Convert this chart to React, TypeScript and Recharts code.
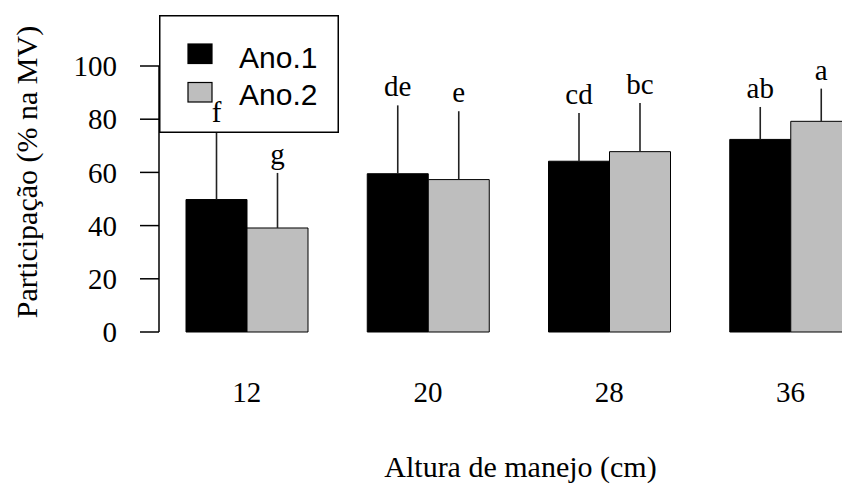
import React from 'react';
import { BarChart, Bar, XAxis, YAxis, ErrorBar, LabelList, Legend } from 'recharts';

// Altura de manejo (cm)
const alturas = ['12', '20', '28', '36'];
// Participação média (% na MV)
const ano1 = [49.8, 59.5, 64.2, 72.4];
const ano2 = [39.1, 57.3, 67.8, 79.2];
// Desvio (somente para cima)
const desvio1 = [25.7, 25.7, 18.1, 12.2];
const desvio2 = [20.7, 25.7, 18.3, 12.3];
// Letras de comparação de médias
const letras1 = ['f', 'de', 'cd', 'ab'];
const letras2 = ['g', 'e', 'bc', 'a'];
const yTicks = [0, 20, 40, 60, 80, 100];
const seriesNames = ['Ano.1', 'Ano.2'];
const seriesColors = ['#000000', '#BEBEBE'];

const data = alturas.map((altura, i) => ({
  altura,
  ano1: ano1[i],
  ano2: ano2[i],
  err1: [0, desvio1[i]],
  err2: [0, desvio2[i]],
  topo1: desvio1[i],
  topo2: desvio2[i],
  letra1: letras1[i],
  letra2: letras2[i],
}));

const SERIF = '"Liberation Serif", "Times New Roman", Times, serif';
const SANS = '"Liberation Sans", Arial, Helvetica, sans-serif';

const W = 882;
const H = 484;
const MARGIN_TOP = 66;
const XAXIS_H = 152;
const YAXIS_W = 159;
const X_PAD = { left: -3, right: 1 };

const LetterLabel = (props: any) => {
  const vb = props.viewBox ?? {};
  const x = props.x ?? vb.x;
  const y = props.y ?? vb.y;
  const w = props.width ?? vb.width;
  return (
    <text x={x + w / 2} y={y - 9} textAnchor="middle" fontFamily={SERIF} fontSize={29} fill="#000">
      {props.value}
    </text>
  );
};

const YTitle = () => (
  <text
    x={37}
    y={172}
    transform="rotate(-90 37 172)"
    textAnchor="middle"
    fontFamily={SERIF}
    fontSize={30}
    fill="#000"
  >
    Participação (% na MV)
  </text>
);

// Boxed legend, drawn above the plot so it hides what lies beneath it
const LegendContent = (props: any) => {
  const items = (props.payload ?? []).filter((p: any) => p.type !== 'none');
  return (
    <svg width={180} height={118} style={{ display: 'block' }}>
      <rect x={0.75} y={0.75} width={178.5} height={116.5} fill="#fff" stroke="#000" strokeWidth={1.5} />
      {items.map((item: any, i: number) => (
        <g key={item.value}>
          <rect x={29} y={29 + i * 38.5} width={24} height={19.5} fill={item.color} stroke="#000" strokeWidth={1.2} />
          <text x={80} y={52.5 + i * 37.5} fontFamily={SANS} fontSize={30} fill="#000">
            {item.value}
          </text>
        </g>
      ))}
    </svg>
  );
};

export default function App() {
  return (
    <div style={{ position: 'absolute', left: 0, top: 0, width: 842, height: 484, overflow: 'hidden', background: '#fff' }}>
      {/* Bars, error bars, axes and legend */}
      <div style={{ position: 'absolute', left: 0, top: 0 }}>
        <BarChart
          width={W}
          height={H}
          data={data}
          margin={{ top: MARGIN_TOP, right: 0, bottom: 0, left: 0 }}
          barSize={61}
          barGap={0}
        >
          <XAxis
            dataKey="altura"
            padding={X_PAD}
            axisLine={false}
            tickLine={false}
            tickSize={0}
            tickMargin={49}
            interval={0}
            height={XAXIS_H}
            tick={{ fontFamily: SERIF, fontSize: 29, fill: '#000' }}
            label={{
              value: 'Altura de manejo (cm)',
              position: 'insideBottom',
              offset: 7,
              style: { fontFamily: SERIF, fontSize: 30, fill: '#000' },
            }}
          />
          <YAxis
            domain={[0, 100]}
            ticks={yTicks}
            width={YAXIS_W}
            tickSize={19}
            tickMargin={23}
            axisLine={{ stroke: '#000', strokeWidth: 1.5 }}
            tickLine={{ stroke: '#000', strokeWidth: 1.5 }}
            tick={{ fontFamily: SERIF, fontSize: 29, fill: '#000' }}
            label={{ content: () => <YTitle /> }}
          />
          <Bar dataKey="ano1" name={seriesNames[0]} stackId="s1" fill={seriesColors[0]} stroke="#000" strokeWidth={1} isAnimationActive={false}>
            <ErrorBar dataKey="err1" width={0} stroke="#222" strokeWidth={1.6} direction="y" />
          </Bar>
          <Bar dataKey="ano2" name={seriesNames[1]} stackId="s2" fill={seriesColors[1]} stroke="#000" strokeWidth={1} isAnimationActive={false}>
            <ErrorBar dataKey="err2" width={0} stroke="#222" strokeWidth={1.6} direction="y" />
          </Bar>
          <Legend
            layout="horizontal"
            verticalAlign="middle"
            align="center"
            content={LegendContent}
            wrapperStyle={{ left: 159, top: 15, width: 180, height: 118, margin: 0, padding: 0 }}
          />
        </BarChart>
      </div>
      {/* Letters above the error bars, same scales, layered over the legend */}
      <div style={{ position: 'absolute', left: 0, top: 0, pointerEvents: 'none' }}>
        <BarChart
          width={W}
          height={H}
          data={data}
          margin={{ top: MARGIN_TOP, right: 0, bottom: XAXIS_H, left: YAXIS_W }}
          barSize={61}
          barGap={0}
        >
          <XAxis dataKey="altura" hide padding={X_PAD} />
          <YAxis hide domain={[0, 100]} />
          <Bar dataKey="ano1" stackId="s1" fill="none" stroke="none" isAnimationActive={false} />
          <Bar dataKey="ano2" stackId="s2" fill="none" stroke="none" isAnimationActive={false} />
          <Bar dataKey="topo1" stackId="s1" fill="none" stroke="none" isAnimationActive={false}>
            <LabelList dataKey="letra1" content={LetterLabel} />
          </Bar>
          <Bar dataKey="topo2" stackId="s2" fill="none" stroke="none" isAnimationActive={false}>
            <LabelList dataKey="letra2" content={LetterLabel} />
          </Bar>
        </BarChart>
      </div>
    </div>
  );
}
